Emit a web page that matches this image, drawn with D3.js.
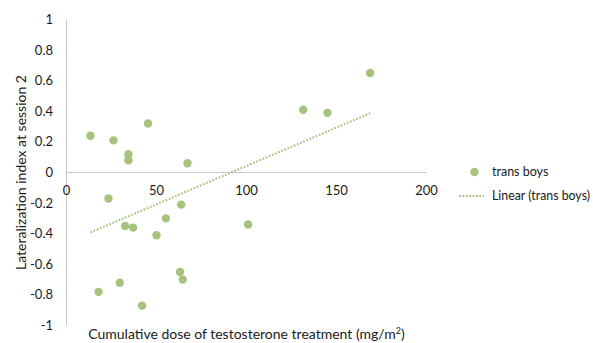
<!DOCTYPE html>
<html>
<head>
<meta charset="utf-8">
<script src="https://cdn.jsdelivr.net/npm/d3@7"></script>
<style>
	body { margin: 0; background: #fff; }
	text { font-family: Lato, "Open Sans", sans-serif; fill: #1a1a1a; }
</style>
</head>
<body>
<div></div>
<script>
const doses = [13.3, 26.1, 34.4, 34.4, 45.3, 67.2, 23.3, 32.6, 37, 50, 55.2, 63.7, 63.1, 64.6, 17.8, 29.6, 42, 100.9, 131.5, 145, 168.7];
const lateralization = [0.24, 0.21, 0.12, 0.08, 0.32, 0.06, -0.17, -0.35, -0.36, -0.41, -0.30, -0.21, -0.65, -0.70, -0.78, -0.72, -0.87, -0.34, 0.41, 0.39, 0.65];
const x_ticks = [0, 50, 100, 150, 200];
const y_ticks = [-1, -0.8, -0.6, -0.4, -0.2, 0, 0.2, 0.4, 0.6, 0.8, 1];
const series_name = "trans boys";
const point_color = "#a6c37d";

const width = 593;
const height = 343;

var svg = d3.select("div")
	.append("svg")
	.attr("width", width)
	.attr("height", height);

var x = d3.scaleLinear().domain([0, 200]).range([66.5, 426.5]);
var y = d3.scaleLinear().domain([-1, 1]).range([325.5, 19.5]);

// axes: the x axis crosses at y = 0
svg.append("line")
	.attr("x1", x(0)).attr("x2", x(0))
	.attr("y1", y(1)).attr("y2", y(-1))
	.style("stroke", "#c8c8c8");
svg.append("line")
	.attr("x1", x(0)).attr("x2", x(200))
	.attr("y1", y(0)).attr("y2", y(0))
	.style("stroke", "#c8c8c8");

svg.append("g")
	.selectAll("text")
	.data(y_ticks)
	.enter()
	.append("text")
	.attr("x", 53)
	.attr("y", function (d) { return y(d); })
	.attr("dy", "0.35em")
	.attr("text-anchor", "end")
	.style("font-size", "13px")
	.text(function (d) { return d; });

svg.append("g")
	.selectAll("text")
	.data(x_ticks)
	.enter()
	.append("text")
	.attr("x", function (d) { return x(d); })
	.attr("y", y(0) + 18)
	.attr("dy", "0.35em")
	.attr("text-anchor", "middle")
	.style("font-size", "13px")
	.text(function (d) { return d; });

// linear trend (least squares)
var mx = d3.mean(doses), my = d3.mean(lateralization);
var sxy = d3.sum(doses, function (d, i) { return (d - mx) * (lateralization[i] - my); });
var sxx = d3.sum(doses, function (d) { return (d - mx) * (d - mx); });
var slope = sxy / sxx, icpt = my - slope * mx;
var xmin = d3.min(doses), xmax = d3.max(doses);

svg.append("line")
	.attr("x1", x(xmin)).attr("y1", y(icpt + slope * xmin))
	.attr("x2", x(xmax)).attr("y2", y(icpt + slope * xmax))
	.style("stroke", point_color)
	.style("stroke-width", 2)
	.style("stroke-dasharray", "1.8,1.6");

svg.append("g")
	.selectAll("circle")
	.data(doses)
	.enter()
	.append("circle")
	.attr("cx", function (d) { return x(d); })
	.attr("cy", function (d, i) { return y(lateralization[i]); })
	.attr("r", 4.2)
	.attr("fill", point_color);

// axis titles
svg.append("text")
	.attr("transform", "translate(21," + y(0) + ") rotate(-90)")
	.attr("text-anchor", "middle")
	.attr("dy", "0.35em")
	.style("font-size", "14px")
	.text("Lateralization index at session 2");

var xt = svg.append("text")
	.attr("x", (x(0) + x(200)) / 2)
	.attr("y", 339)
	.attr("text-anchor", "middle")
	.style("font-size", "14px");
xt.append("tspan").text("Cumulative dose of testosterone treatment (mg/m");
xt.append("tspan").attr("dy", -5).style("font-size", "9px").text("2");
xt.append("tspan").attr("dy", 5).text(")");

// legend
svg.append("circle")
	.attr("cx", 474.5).attr("cy", 172)
	.attr("r", 4.2)
	.attr("fill", point_color);
svg.append("text")
	.attr("x", 492).attr("y", 172)
	.attr("dy", "0.35em")
	.style("font-size", "12.5px")
	.text(series_name);
svg.append("line")
	.attr("x1", 459).attr("x2", 484)
	.attr("y1", 196).attr("y2", 196)
	.style("stroke", point_color)
	.style("stroke-width", 2)
	.style("stroke-dasharray", "1.8,1.6");
svg.append("text")
	.attr("x", 492).attr("y", 196)
	.attr("dy", "0.35em")
	.style("font-size", "12.5px")
	.attr("textLength", 98)
	.attr("lengthAdjust", "spacingAndGlyphs")
	.text("Linear (" + series_name + ")");
</script>
</body>
</html>
